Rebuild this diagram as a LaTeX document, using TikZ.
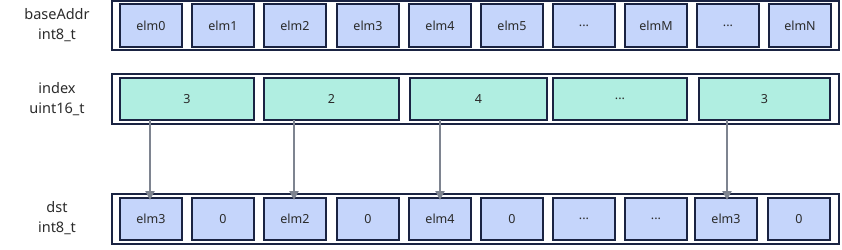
\documentclass[tikz,border=0pt]{standalone}
\usepackage{fontspec}
\setmainfont{Noto Sans}
\usetikzlibrary{arrows.meta}
\definecolor{navy}{HTML}{1A2342}
\definecolor{cellblue}{HTML}{C5D5FB}
\definecolor{cellteal}{HTML}{B0EEE1}
\definecolor{arrgray}{HTML}{7E8490}
\definecolor{txt}{HTML}{2B2B2B}
\newcommand{\eld}{...}
\tikzset{
  outer/.style={draw=navy, line width=1.3pt},
  cellfont/.style={font=\fontsize{12.5}{15}\selectfont, text=txt},
  bcell/.style={draw=navy, fill=cellblue, line width=1.1pt},
  tcell/.style={draw=navy, fill=cellteal, line width=1.1pt},
  lbl/.style={font=\fontsize{14.5}{20}\selectfont, text=txt, align=center},
  link/.style={draw=arrgray, line width=2.6pt, -{Triangle[length=9pt,width=9pt]}}
}
\begin{document}
\begin{tikzpicture}[x=1pt,y=-1pt]
\useasboundingbox (0,0) rectangle (842,249);
% labels
\node[lbl] (l1) at (57,25) {baseAddr\\int8\_t};
\node[lbl] (l2) at (57,99) {index\\uint16\_t};
\node[lbl] (l3) at (57,218) {dst\\int8\_t};
% outer frames
\draw[outer] (112,1) rectangle (839,50);
\draw[outer] (112,74) rectangle (839,124);
\draw[outer] (112,194) rectangle (839,244);
% baseAddr cells
\foreach \x/\t/\n in {120/elm0/a0,192/elm1/a1,264/elm2/a2,337/elm3/a3,409/elm4/a4,481/elm5/a5,553/\eld/a6,625/elmM/a7,697/\eld/a8,769/elmN/a9}{
  \path[bcell] (\x,4) rectangle ++(62,43);
  \node[cellfont] (\n) at (\x+31,25.5) {\t};
}
% index cells
\foreach \xa/\xb/\t/\n in {120/254/3/i0,264/399/2/i1,410/547/4/i2,553/687/\eld/i3,699/830/3/i4}{
  \path[tcell] (\xa,78) rectangle (\xb,120);
  \node[cellfont] (\n) at ({(\xa+\xb)/2},99) {\t};
}
% dst cells
\foreach \x/\t/\n in {120/elm3/d0,192/0/d1,264/elm2/d2,337/0/d3,409/elm4/d4,481/0/d5,553/\eld/d6,625/\eld/d7,695/elm3/d8,768/0/d9}{
  \path[bcell] (\x,198) rectangle ++(62,42);
  \node[cellfont] (\n) at (\x+31,219) {\t};
}
% anchors for arrows
\coordinate (s0) at (150,120); \coordinate (e0) at (150,200);
\coordinate (s1) at (294,120); \coordinate (e1) at (294,200);
\coordinate (s2) at (440,120); \coordinate (e2) at (440,200);
\coordinate (s3) at (727,120); \coordinate (e3) at (727,200);
\draw[link] (s0) -- (e0);
\draw[link] (s1) -- (e1);
\draw[link] (s2) -- (e2);
\draw[link] (s3) -- (e3);
\end{tikzpicture}
\end{document}
